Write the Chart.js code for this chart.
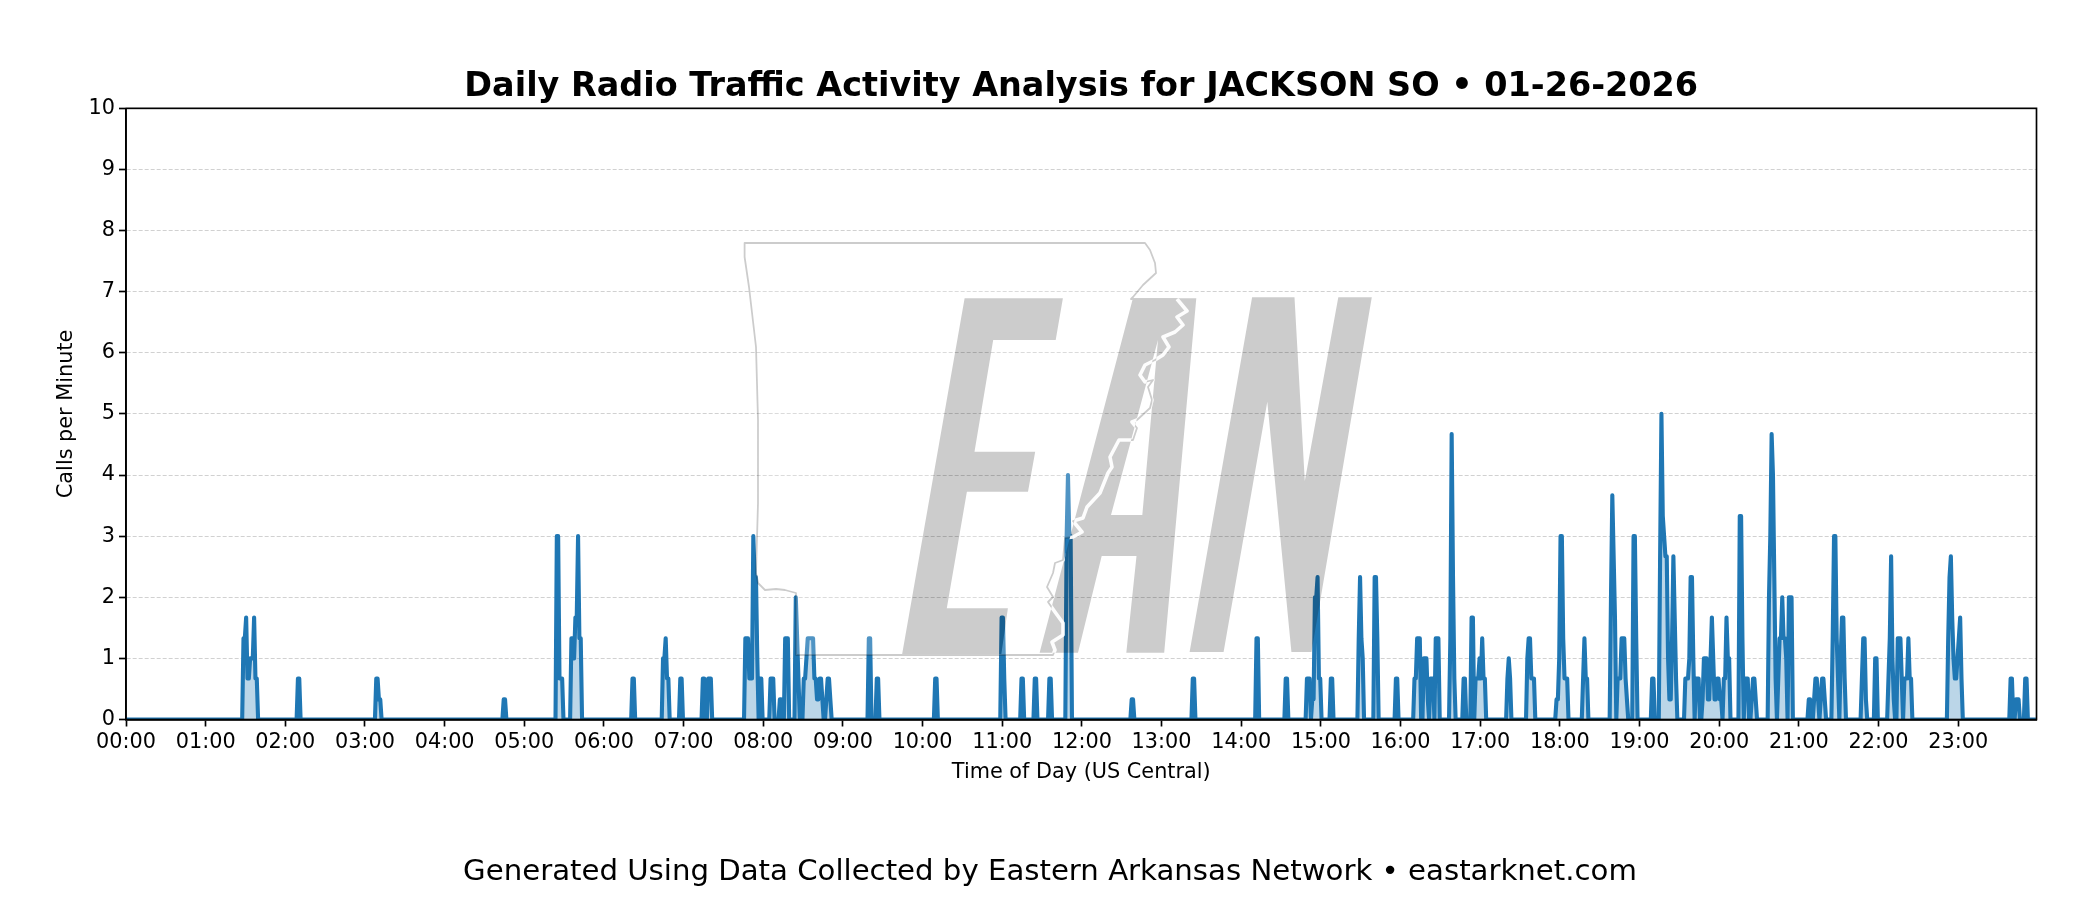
<!DOCTYPE html>
<html>
<head>
<meta charset="utf-8">
<title>Daily Radio Traffic Activity Analysis</title>
<script src="https://cdn.jsdelivr.net/npm/chart.js@4"></script>
<style>
  html, body { margin: 0; padding: 0; background: #fff; }
  canvas { display: block; }
</style>
</head>
<body>
<canvas id="trafficChart" width="2100" height="900"></canvas>
<script>
/* --------------- Data : first minute of each burst of calls, then calls per minute from there on --------------- */
const burstStarts = [
  89, 130, 189, 285, 325, 336, 382, 405, 418, 435, 439, 467, 478, 486, 493, 497, 505, 511, 528,
  560, 566, 610, 660, 675, 685, 696, 709, 758, 804, 852, 874, 890, 894, 908, 929, 941, 957,
  971, 978, 983, 987, 998, 1008, 1014, 1017, 1041, 1056, 1078, 1098, 1119, 1124, 1136, 1150, 1156,
  1175, 1183, 1188, 1204, 1216, 1220, 1225, 1238, 1245, 1253, 1268, 1272, 1277, 1286, 1292,
  1308, 1318, 1328, 1335, 1340, 1373, 1420, 1424, 1431,
];
const burstRates = [
  [1.33, 1.33, 1.67, 0.67, 0.67, 1, 1, 1, 1.67, 0.67, 0.67], [0.67, 0.67], [0.67, 0.67, 0.33, 0.33], [0.33, 0.33],
  [3, 3, 0.67, 0.67, 0.67], [1.33, 1.33, 1, 1.67, 1.67, 3, 1.33, 1.33], [0.67, 0.67], [1, 1, 1.33, 0.67, 0.67],
  [0.67, 0.67], [0.67, 0.67], [0.67, 0.67, 0.67], [1.33, 1.33, 1.33, 0.67, 0.67, 0.67, 3, 2.33, 2.33, 1],
  [0.67, 0.67], [0.67, 0.67, 0.67], [0.33, 0.33], [1.33, 1.33, 1.33], [2, 1.33, 0.67],
  [0.67, 0.67, 1, 1.33, 1.33, 1.33, 1.33, 1.33, 0.67, 0.67, 0.33, 0.33, 0.67, 0.67, 0.33], [0.33, 0.67, 0.67, 0.33],
  [1.33, 1.33], [0.67, 0.67], [0.67, 0.67], [1.67, 1.67, 0.67], [0.67, 0.67], [0.67, 0.67], [0.67, 0.67],
  [3, 4, 3, 3], [0.33, 0.33], [0.67, 0.67], [1.33, 1.33], [0.67, 0.67], [0.67, 0.67, 0.67],
  [0.33, 0.33, 2, 2, 2.33, 0.67, 0.67], [0.67, 0.67], [1.33, 2.33, 1.33, 1], [2.33, 2.33, 1.33], [0.67, 0.67],
  [0.67, 0.67, 1.33, 1.33, 1.33], [1, 1, 1, 0.33], [0.67, 0.67, 0.67], [1.33, 1.33, 1.33], [1.33, 4.67, 2.33, 0.67],
  [0.67, 0.67], [1.67, 1.67], [0.67, 0.67, 0.67, 1, 0.67, 1.33, 0.67, 0.67], [0.67, 1, 0.67],
  [1, 1.33, 1.33, 0.67, 0.67, 0.67], [0.33, 0.33, 1, 3, 3, 1.33, 0.67, 0.67, 0.67], [0.67, 1.33, 0.67, 0.67],
  [2, 3.67, 2.67, 1.67], [0.67, 0.67, 0.67, 1.33, 1.33, 1.33, 0.67, 0.33], [3, 3, 1.33], [0.67, 0.67],
  [2.67, 5, 3.33, 3, 2.67, 2.67, 1, 0.33, 0.33, 1.33, 2.67, 1.67, 0.67],
  [0.67, 0.67, 0.67, 1, 2.33, 2.33, 1], [0.67, 0.67, 0.67],
  [0.33, 1, 1, 1, 0.33, 0.33, 1, 1.67, 1, 0.33, 0.33, 0.67, 0.67, 0.33, 0.33], [0.67, 0.67, 1.67, 1, 1],
  [3.33, 3.33, 1.33], [0.67, 0.67, 0.67], [0.33, 0.67, 0.67, 0.33], [2, 3, 4.67, 4, 2.33, 0.67],
  [0.67, 1.33, 1.33, 2, 1.33, 1.33, 1], [2, 2, 2], [0.33, 0.33], [0.33, 0.67, 0.67, 0.33], [0.33, 0.67, 0.67, 0.33],
  [1.33, 3, 3, 1.33, 0.67], [1, 1.67, 1.67, 0.67], [0.67, 1.33, 1.33, 0.33], [1, 1], [0.67, 1.33, 2.67, 1, 0.33],
  [1.33, 1.33, 1.33, 0.67], [0.67, 0.67, 0.67, 1.33, 0.67, 0.67],
  [1.33, 2.33, 2.67, 1.67, 1, 0.67, 0.67, 1, 1.33, 1.67, 0.67], [0.67, 0.67], [0.33, 0.33, 0.33], [0.67, 0.67],
];
const lastMinute = 1439;
const hourTicks = [0, 60, 120, 180, 240, 300, 360, 420, 480, 540, 600, 660, 720, 780, 840, 900, 960, 1020, 1080, 1140, 1200, 1260, 1320, 1380];
const callsTicks = [0, 1, 2, 3, 4, 5, 6, 7, 8, 9, 10];

const titleText = "Daily Radio Traffic Activity Analysis for JACKSON SO \u2022 01-26-2026";
const footerText = "Generated Using Data Collected by Eastern Arkansas Network \u2022 eastarknet.com";

/* --------------- Every minute of the day, quiet minutes stay at 0 --------------- */
const perMinute = new Array(lastMinute + 1).fill(0);
burstStarts.forEach((start, i) => {
  burstRates[i].forEach((rate, j) => { perMinute[start + j] = rate; });
});
// readings sit about half a minute ahead of the whole-minute grid they were read on
const points = perMinute.map((rate, minute) => ({ x: minute - 0.5, y: rate }));

const timeLabel = (minute) =>
  String(Math.floor(minute / 60)).padStart(2, "0") + ":" + String(minute % 60).padStart(2, "0");

/* --------------- Watermark outlines, in page pixels --------------- */
const letterE = [[964.6,298.3],[1062.9,298.3],[1055.7,340],[993.2,340],[974.5,451.7],[1035.2,451.7],[1028,491.7],[966.9,491.7],[946.8,608.3],[1007.9,608.3],[1001.3,654.3],[902.1,654.3]];
const letterA = [[1039.6,652.7],[1132.9,298.3],[1196.3,298.3],[1164.2,652.7],[1126.3,652.7],[1136.5,556],[1101.7,556],[1078,652.7]];
const letterAHole = [[1111,515],[1142.3,515],[1158,340]];
const letterN = [[1252.1,297.3],[1294.5,297.3],[1304.8,481],[1338.3,297.3],[1371.8,297.3],[1311.5,652],[1291.4,652],[1267.3,401.7],[1223.6,652],[1189.6,652]];
const stateNorth = [[744.6,257],[744.6,243],[1145,243],[1150,250],[1155,263],[1156,273],[1143,285],[1133,297],[1131,299]];
const river = [[1177,299],[1182,305],[1187,311],[1177,317],[1183,325],[1175,332],[1163,337],[1169,347],[1163,355],[1155,360],[1145,365],[1140,375],[1145,382],[1153,380],[1148,387],[1152,400],[1150,408],[1137,420],[1132,422],[1137,428],[1133,440],[1119,440],[1110,457],[1112,467],[1108,473],[1100,493],[1087,507],[1083,518],[1073,521],[1082,532],[1073,537],[1065,538],[1063,560],[1055,563],[1053,573],[1047,587],[1053,597],[1048,602],[1055,612],[1063,623],[1063,635],[1052,642],[1055,650],[1053,655]];
const stateSouthWest = [[796,655],[796,593],[785,590],[776,589],[765,590],[758,583],[756,573],[758,503],[758,420],[756,347],[749,287]];

const addShape = (path, shape, close) => {
  shape.forEach((p, i) => (i ? path.lineTo(p[0], p[1]) : path.moveTo(p[0], p[1])));
  if (close) path.closePath();
};

const watermark = {
  id: "watermark",
  afterDatasetsDraw(chart) {
    const ctx = chart.ctx;
    const letters = new Path2D();
    [letterE, letterA, letterAHole, letterN].forEach((s) => addShape(letters, s, true));
    const state = new Path2D();
    addShape(state, stateNorth.concat(river, stateSouthWest), true);
    const riverLine = new Path2D();
    addShape(riverLine, river, false);

    ctx.save();
    ctx.lineJoin = "round";

    // state area washes out what is behind it, and its outline shows, except on the letters
    ctx.save();
    const outside = new Path2D();
    outside.rect(0, 0, chart.width, chart.height);
    outside.addPath(letters);
    ctx.clip(outside, "evenodd");
    ctx.fillStyle = "rgba(255,255,255,0.22)";
    ctx.fill(state);
    ctx.strokeStyle = "rgba(0,0,0,0.2)";
    ctx.lineWidth = 1.8;
    ctx.stroke(state);
    ctx.restore();

    ctx.fillStyle = "rgba(0,0,0,0.2)";
    ctx.fill(letters, "evenodd");

    // river edge shows white across the letters
    ctx.save();
    ctx.clip(letters, "evenodd");
    ctx.strokeStyle = "rgba(255,255,255,0.95)";
    ctx.lineWidth = 3.6;
    ctx.stroke(riverLine);
    ctx.restore();

    ctx.restore();
  },
};

const whiteBackground = {
  id: "whiteBackground",
  beforeDraw(chart) {
    chart.ctx.save();
    chart.ctx.fillStyle = "#fff";
    chart.ctx.fillRect(0, 0, chart.width, chart.height);
    chart.ctx.restore();
  },
};

// axes frame plus the line of text under the figure, centred on the whole page
const frame = {
  id: "frame",
  afterDraw(chart) {
    const a = chart.chartArea;
    const ctx = chart.ctx;
    ctx.save();
    ctx.strokeStyle = "#000";
    ctx.lineWidth = 1.67;
    ctx.strokeRect(a.left, a.top, a.right - a.left, a.bottom - a.top);
    ctx.fillStyle = "#000";
    ctx.font = '29.2px "DejaVu Sans"';
    ctx.textAlign = "center";
    ctx.textBaseline = "middle";
    ctx.fillText(footerText, chart.width / 2, 872);
    ctx.restore();
  },
};

/* --------------- Chart --------------- */
Chart.defaults.font.family = '"DejaVu Sans"';
Chart.defaults.color = "#000";

new Chart(document.getElementById("trafficChart"), {
  type: "line",
  plugins: [whiteBackground, watermark, frame],
  data: {
    datasets: [{
      data: points,
      borderColor: "#1f77b4",
      backgroundColor: "rgba(31,119,180,0.3)",
      borderWidth: 4.1,
      borderJoinStyle: "round",
      fill: "origin",
      pointRadius: 0,
      tension: 0,
    }],
  },
  options: {
    responsive: false,
    devicePixelRatio: 1,
    animation: false,
    layout: { padding: { right: 63.5 } },
    plugins: {
      legend: { display: false },
      tooltip: { enabled: false },
      title: {
        display: true,
        text: titleText,
        fullSize: false,
        font: { size: 33.45, weight: "bold" },
        color: "#000",
        padding: { top: 67, bottom: 1.2 },
      },
    },
    scales: {
      x: {
        type: "linear",
        min: 0,
        max: lastMinute,
        afterFit(scale) { scale.height = 180.5; },
        afterBuildTicks(scale) { scale.ticks = hourTicks.map((v) => ({ value: v })); },
        ticks: {
          autoSkip: false,
          maxRotation: 0,
          padding: 4,
          font: { size: 20.8 },
          callback: (v) => timeLabel(v),
        },
        grid: { drawOnChartArea: false, drawTicks: true, tickLength: 7, tickColor: "#000", tickWidth: 1.67 },
        border: { color: "#000", width: 1.67 },
        title: {
          display: true,
          text: "Time of Day (US Central)",
          font: { size: 20.8 },
          color: "#000",
          padding: { top: 0, bottom: 115 },
        },
      },
      y: {
        min: 0,
        max: 10,
        afterFit(scale) { scale.width = 126; },
        afterBuildTicks(scale) { scale.ticks = callsTicks.map((v) => ({ value: v })); },
        ticks: { padding: 4, font: { size: 20.8 }, autoSkip: false },
        grid: {
          color: "rgba(0,0,0,0.18)",
          lineWidth: 1,
          tickLength: 7,
          tickColor: "#000",
          tickWidth: 1.67,
          tickBorderDash: [],
        },
        border: { color: "#000", width: 1.67, dash: [4, 2] },
        title: {
          display: true,
          text: "Calls per Minute",
          font: { size: 20.8 },
          color: "#000",
          padding: { top: 54, bottom: 0 },
        },
      },
    },
  },
});
</script>
</body>
</html>
